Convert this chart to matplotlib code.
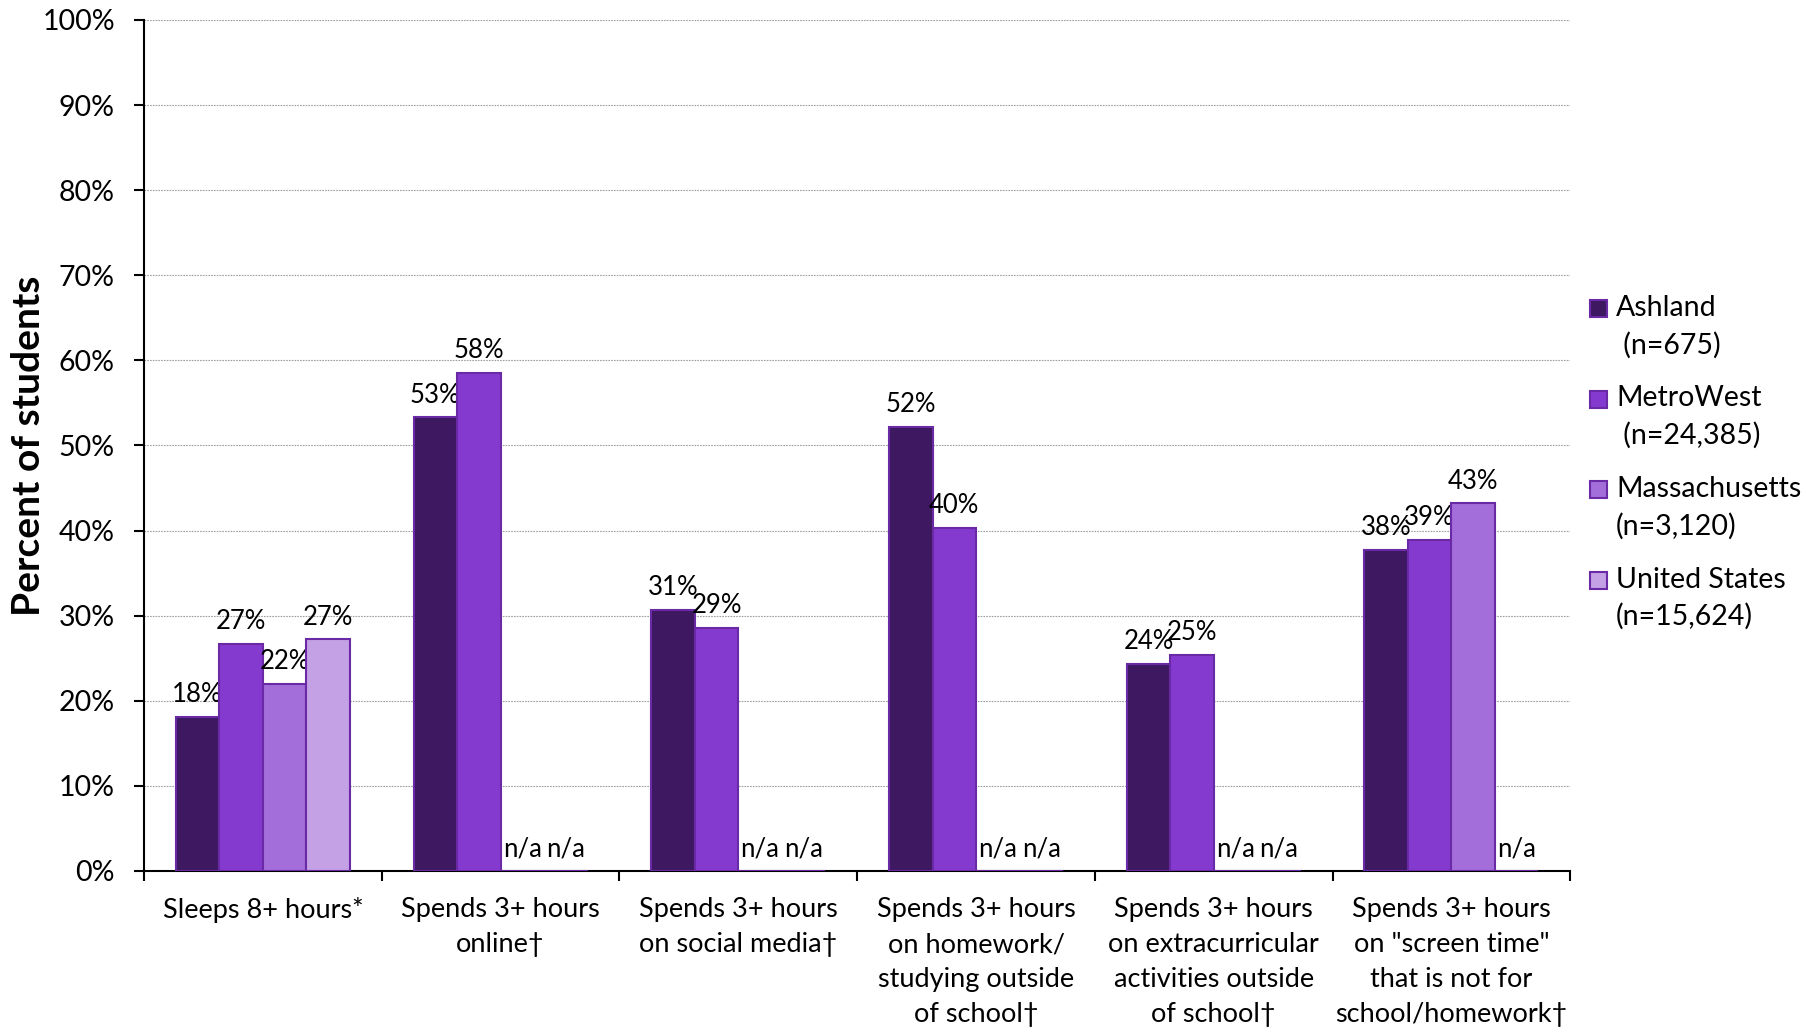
import numpy as np
import matplotlib.pyplot as plt
from matplotlib.patches import Rectangle

plt.rcParams['font.family'] = ['Lato', 'DejaVu Sans']

# Categories and series (percent of students; None = not available)
categories = ['Sleeps 8+ hours*',
              'Spends 3+ hours\nonline\u2020',
              'Spends 3+ hours\non social media\u2020',
              'Spends 3+ hours\non homework/\nstudying outside\nof school\u2020',
              'Spends 3+ hours\non extracurricular\nactivities outside\nof school\u2020',
              'Spends 3+ hours\non "screen time"\nthat is not for\nschool/homework\u2020']
series_names = ['Ashland\n (n=675)', 'MetroWest\n (n=24,385)',
                'Massachusetts\n(n=3,120)', 'United States\n(n=15,624)']
ashland = [18.1, 53.3, 30.7, 52.2, 24.3, 37.7]
metrowest = [26.7, 58.5, 28.6, 40.3, 25.4, 38.9]
massachusetts = [22.0, None, None, None, None, 43.2]
united_states = [27.2, None, None, None, None, None]
series = [ashland, metrowest, massachusetts, united_states]
colors = ['#3e1860', '#853acf', '#a36eda', '#c4a0e5']
edge = '#6a2aa6'

fig = plt.figure(figsize=(18.07, 10.30), dpi=100)
ax = fig.add_axes([0.0797, 0.1544, 0.869 - 0.0797, 0.9806 - 0.1544])

x = np.arange(len(categories))
width = 0.183
for i, (vals, col) in enumerate(zip(series, colors)):
    pos = x + (i - 1.5) * width
    h = [v if v is not None else 0 for v in vals]
    ax.bar(pos, h, width, color=col, edgecolor=edge, linewidth=1.5, zorder=3)
    for p, v in zip(pos, vals):
        txt = 'n/a' if v is None else f'{v:.0f}%'
        ax.annotate(txt, (p, v or 0), xytext=(0, 7), textcoords='offset points',
                    ha='center', va='bottom', fontsize=18.5)

ax.set_xlim(-0.5, len(categories) - 0.5)
ax.set_ylim(0, 100)
ax.set_yticks(np.arange(0, 101, 10))
ax.set_yticklabels([f'{t}%' for t in range(0, 101, 10)], fontsize=20.5)
ax.yaxis.grid(True, color='#a0a0a0', linestyle=(0, (1.5, 1)), linewidth=0.8, zorder=0)

# group boundary ticks on the x axis, labels centred between them
ax.set_xticks(np.arange(-0.5, len(categories) + 0.5, 1))
ax.set_xticklabels([])
ax.set_xticks(x, minor=True)
ax.set_xticklabels(categories, minor=True, fontsize=19.5, linespacing=1.5, va='top')
ax.tick_params(axis='x', which='minor', length=0, pad=19)
ax.tick_params(axis='x', which='major', length=7, width=1.5, direction='out')
ax.tick_params(axis='y', length=7, width=1.5, pad=14)

for s in ['top', 'right']:
    ax.spines[s].set_visible(False)
for s in ['left', 'bottom']:
    ax.spines[s].set_linewidth(1.5)

ax.set_ylabel('Percent of students', fontsize=28, fontweight='bold')
ax.yaxis.set_label_coords(-0.069, 0.5)

# legend: square next to the first line of each two-line label
W, H = 1807, 1030
for i, (name, col) in enumerate(zip(series_names, colors)):
    first, second = name.split('\n')
    yc = 308 + i * 90.5
    fig.patches.append(Rectangle((1590 / W, (H - yc - 9) / H), 17 / W, 17 / H,
                                 transform=fig.transFigure, facecolor=col,
                                 edgecolor=edge, linewidth=1.5))
    fig.text(1616 / W, 1 - yc / H, first, fontsize=20.5, va='center', ha='left')
    fig.text(1616 / W, 1 - (yc + 37) / H, second, fontsize=20.5, va='center', ha='left')

fig.savefig('out.png', dpi=100)
